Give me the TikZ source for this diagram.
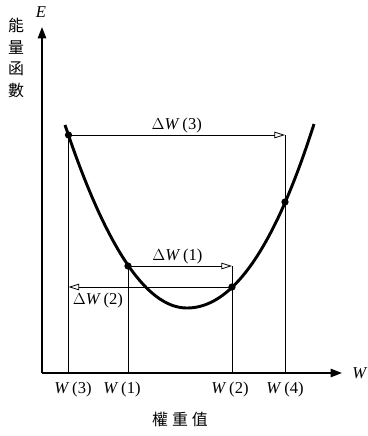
\documentclass[tikz,border=0pt]{standalone}
\usepackage{fontspec}
\setmainfont{Liberation Serif}
\newfontfamily\cjk{Noto Sans CJK TC}
\usetikzlibrary{arrows.meta, positioning, calc}
\tikzset{
  every picture/.style={line width=0.6pt},
  axisline/.style={-{Triangle[length=3mm, width=2.2mm]}, line width=1.3pt},
  energy/.style={line width=2.2pt},
  dot/.style={circle, fill=black, inner sep=0pt, minimum size=5.5pt},
  darrow/.style={-{Triangle[open, length=2.8mm, width=1.7mm]}, line width=0.6pt},
  lbl/.style={font=\fontsize{12.5}{14}\selectfont, inner sep=1pt},
  cjklbl/.style={font=\cjk\fontsize{12}{16.5}\selectfont, align=center, inner sep=0pt},
}

\begin{document}
\begin{tikzpicture}[x=0.0265cm, y=-0.0265cm]
  \useasboundingbox (0,0) rectangle (367,436);
  % axes
  \coordinate (O) at (42,373);
  \draw[axisline] (O) -- (42,27) coordinate (etop);
  \draw[axisline] (O) -- (342,373) coordinate (wend);
  \node[lbl, font=\itshape\fontsize{12.5}{14}\selectfont] (elabel) at (41,12) {E};
  \node[lbl, font=\itshape\fontsize{12.5}{14}\selectfont, anchor=west, inner sep=0pt] (wlabel) at (352,373) {W};
  \node[cjklbl] (ylabel) at (16,58) {能\\量\\函\\數};
  \node[cjklbl] (xlabel) at (180,419) {權\hspace{3pt}重\hspace{3pt}值};
  % energy curve
  \draw[energy] plot[domain=65:187, samples=40] (\x, {308-1.23*((\x-187)/10)^2})
    -- plot[domain=187:314, samples=40] (\x, {308-0.95*((\x-187)/10)^2-0.015*((\x-187)/10)^3});
  \node[dot] (p3) at (68.5,135) {};
  \node[dot] (p1) at (128,266) {};
  \node[dot] (p2) at (232,287) {};
  \node[dot] (p4) at (285,202) {};
  % feet on the W axis
  \coordinate (f3) at (68.5,373);
  \coordinate (f1) at (128,373);
  \coordinate (f2) at (232,373);
  \coordinate (f4) at (285,373);
  \coordinate (t4) at (p3 -| f4);
  \coordinate (t2) at (p1 -| f2);
  % weight steps
  \draw[darrow] (p3.center) -- (t4) node[lbl, midway, above] (dw3) {$\Delta$\textit{W}\,(3)};
  \draw[darrow] (p1.center) -- (t2) node[lbl, midway, above, xshift=-2pt] (dw1) {$\Delta$\textit{W}\,(1)};
  \draw[darrow] (p2.center) -- (p2 -| f3) node[lbl, pos=0.82, below, yshift=-3pt] (dw2) {$\Delta$\textit{W}\,(2)};
  \draw (p3.center) -- (f3);
  \draw (p1.center) -- (f1);
  \draw (t2) -- (f2);
  \draw (t4) -- (f4);
  % tick labels
  \node[lbl] (w3) at (73,390) {\textit{W}\,(3)};
  \node[lbl] (w1) at (122,390) {\textit{W}\,(1)};
  \node[lbl] (w2) at (230,390) {\textit{W}\,(2)};
  \node[lbl] (w4) at (285,390) {\textit{W}\,(4)};
\end{tikzpicture}
\end{document}
